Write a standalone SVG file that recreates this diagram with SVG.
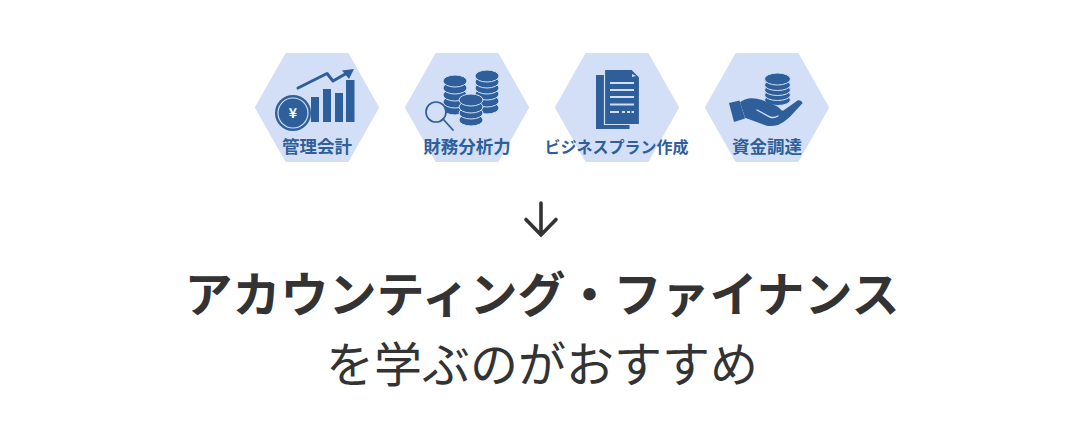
<svg xmlns="http://www.w3.org/2000/svg" xmlns:xlink="http://www.w3.org/1999/xlink" width="1082" height="430" viewBox="0 0 1082 430">
<style>
text{font-family:"Noto Sans CJK JP","Noto Sans",sans-serif;text-anchor:middle}
.hex{fill:#d2dff6;stroke:#d2dff6;stroke-width:3;stroke-linejoin:round}
.lbl{font-size:17.5px;font-weight:700;fill:#2f5f9b}
.d{fill:#2f5f9b}
.c{fill:#2f5f9b;stroke:#d2dff6;stroke-width:1}
.l{fill:none;stroke:#2f5f9b;stroke-linecap:round;stroke-linejoin:round}
.w{fill:none;stroke:#d2dff6}
.ar{fill:none;stroke:#333;stroke-width:3.6;stroke-linecap:round}
</style>
<defs><polygon id="h" points="-30.5,-53 30.5,-53 60.5,0 30.5,53 -30.5,53 -60.5,0" class="hex"/></defs>
<rect width="1082" height="430" fill="#fff"/>
<g id="node-kanri">
<use xlink:href="#h" href="#h" x="317" y="107.5"/>
<path class="l" stroke-width="3" d="M298,88 L327,73.500 L333,81 L347,73"/>
<polygon class="d" points="342,70.500 354,69 349,79"/>
<rect class="d" x="311" y="97" width="8" height="25"/><rect class="d" x="323" y="89" width="8" height="33"/><rect class="d" x="335" y="93" width="8" height="29"/><rect class="d" x="346" y="80" width="8.500" height="42"/>
<circle class="d" cx="293" cy="113" r="18"/><circle cx="293" cy="113" r="15" class="w" stroke-width="1.200"/>
<text x="293" y="118" font-size="14" font-weight="700" fill="#fff">¥</text>
<text class="lbl" x="317" y="153">管理会計</text>
</g>
<g id="node-zaimu">
<use xlink:href="#h" href="#h" x="467" y="107.500"/>
<g id="stacks">
<ellipse class="c" cx="455" cy="109" rx="12" ry="6"/><ellipse class="c" cx="455" cy="102" rx="12" ry="6"/><ellipse class="c" cx="455" cy="95" rx="12" ry="6"/><ellipse class="c" cx="455" cy="88" rx="12" ry="6"/><ellipse class="c" cx="455" cy="81" rx="12" ry="6"/>
<ellipse class="c" cx="487" cy="108" rx="12" ry="6"/><ellipse class="c" cx="487" cy="101" rx="12" ry="6"/><ellipse class="c" cx="487" cy="94" rx="12" ry="6"/><ellipse class="c" cx="487" cy="88" rx="12" ry="6"/><ellipse class="c" cx="487" cy="82" rx="12" ry="6"/><ellipse class="c" cx="487" cy="76" rx="12" ry="6"/>
<ellipse class="c" cx="471" cy="120" rx="12" ry="6"/><ellipse class="c" cx="471" cy="113" rx="12" ry="6"/><ellipse class="c" cx="471" cy="107" rx="12" ry="6"/><ellipse class="c" cx="471" cy="100" rx="12" ry="6"/>
</g>
<circle cx="436" cy="112" r="10" fill="#d2dff6" stroke="#2f5f9b" stroke-width="1.700"/>
<path class="l" stroke-width="1.800" d="M443,119 L453,130"/>
<text class="lbl" x="467" y="153">財務分析力</text>
</g>
<g id="node-plan">
<use xlink:href="#h" href="#h" x="617" y="107.500"/>
<rect class="d" x="596" y="75" width="33.500" height="54"/>
<path class="d" stroke="#d2dff6" stroke-width="1.200" d="M604.500,69.500 H632 L639.500,77 V124.500 H604.500 Z"/>
<path class="w" stroke-width="1.800" d="M610,83 H634 M610,90 H634 M610,97 H634 M610,104.500 H634 M610,112 H619 M622,112 H625 M627,112 H630 M631.500,112 H634"/>
<path fill="#d2dff6" d="M632,74 L636,76 L632,77 Z"/>
<text class="lbl" x="616.500" y="153" style="font-size:16px">ビジネスプラン作成</text>
</g>
<g id="node-shikin">
<use xlink:href="#h" href="#h" x="767" y="107.500"/>
<ellipse class="c" cx="777.500" cy="100" rx="13" ry="5.500"/><ellipse class="c" cx="777.500" cy="95" rx="13" ry="5.500"/><ellipse class="c" cx="777.500" cy="90" rx="13" ry="5.500"/><ellipse class="c" cx="777.500" cy="85" rx="13" ry="5.500"/><ellipse class="c" cx="777.500" cy="79" rx="13" ry="6"/>
<polygon class="d" points="729,103 739.500,100.500 745,118.500 734,122"/>
<path class="d" d="M740,102.300 Q746,98 752,98.300 Q757,98.500 762,100 L776.500,106 Q780,108 781,110 L783,110.700 L798,100.300 Q801,99.500 802.700,103 L790,116.700 Q784,122.500 778,125 Q772,126.500 766.700,125.700 L745,117.700 Z"/>
<path class="w" stroke-width="1.400" stroke-linecap="round" d="M757,110 L770,117 Q774,118.500 778,116"/>
<text class="lbl" x="767" y="153">資金調達</text>
</g>
<g id="connectors">
<path class="ar" d="M541,203 V235 M526,219.500 L541,235 L556,219.500"/>
</g>
<g id="title">
<text x="542" y="312" font-size="48" font-weight="700" fill="#333">アカウンティング・ファイナンス</text>
<text x="542" y="382" font-size="48" font-weight="400" fill="#333">を学ぶのがおすすめ</text>
</g>
</svg>
